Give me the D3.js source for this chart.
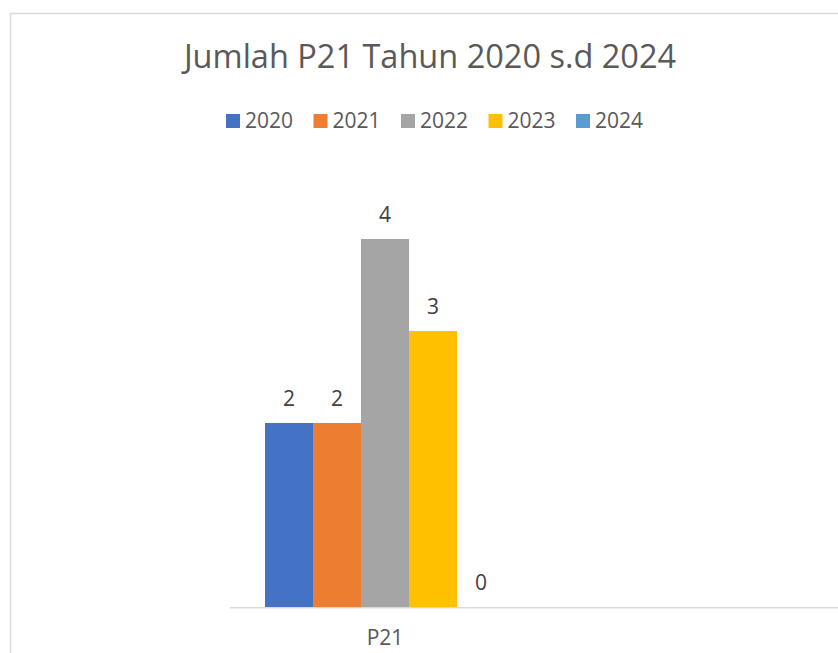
<!DOCTYPE html>
<html>
<head>
<meta charset="utf-8">
<script src="https://cdn.jsdelivr.net/npm/d3@7"></script>
<style>
  html, body { margin: 0; padding: 0; background: #fff; }
  svg { display: block; font-family: "Open Sans", sans-serif; }
</style>
</head>
<body>
<svg id="chart" width="838" height="653"></svg>
<script>
const categories = ["P21"];
const years = ["2020", "2021", "2022", "2023", "2024"];
const values = [2, 2, 4, 3, 0];
const colors = ["#4472C4", "#ED7D31", "#A5A5A5", "#FFC000", "#5B9BD5"];
const yMax = 5;

(() => {
  const width = 838;
  const height = 653;
  const plot = { left: 230, right: 540, top: 147, bottom: 607 };

  const svg = d3.select("#chart");

  // chart frame (cropped on the right and bottom)
  svg.append("rect")
    .attr("x", 10.5)
    .attr("y", 13.5)
    .attr("width", 900)
    .attr("height", 700)
    .attr("fill", "#fff")
    .attr("stroke", "#d9d9d9")
    .attr("stroke-width", 1.5);

  svg.append("text")
    .attr("x", 430)
    .attr("y", 68)
    .attr("text-anchor", "middle")
    .attr("fill", "#595959")
    .style("font-size", "32.5px")
    .text("Jumlah P21 Tahun 2020 s.d 2024");

  // legend
  const legend = svg.append("g")
    .selectAll("g")
    .data(years)
    .join("g")
    .attr("transform", (d, i) => `translate(${226 + i * 87.5}, 114)`);

  legend.append("rect")
    .attr("width", 14)
    .attr("height", 14)
    .attr("fill", (d, i) => colors[i]);

  legend.append("text")
    .attr("x", 19)
    .attr("y", 14)
    .attr("fill", "#595959")
    .style("font-size", "21px")
    .text(d => d);

  const x0 = d3.scaleBand()
    .domain(categories)
    .range([plot.left, plot.right])
    .paddingOuter(0.1458);

  const x1 = d3.scaleBand()
    .domain(years)
    .range([0, x0.bandwidth()]);

  const y = d3.scaleLinear()
    .domain([0, yMax])
    .range([plot.bottom, plot.top]);

  const groups = svg.append("g")
    .selectAll("g")
    .data(categories)
    .join("g")
    .attr("transform", d => `translate(${x0(d)}, 0)`);

  const rows = years.map((yr, i) => ({ year: yr, value: values[i], color: colors[i] }));

  groups.selectAll("rect")
    .data(rows)
    .join("rect")
    .attr("x", d => x1(d.year))
    .attr("y", d => y(d.value))
    .attr("width", x1.bandwidth())
    .attr("height", d => y(0) - y(d.value))
    .attr("fill", d => d.color);

  groups.selectAll("text")
    .data(rows)
    .join("text")
    .attr("x", d => x1(d.year) + x1.bandwidth() / 2)
    .attr("y", d => y(d.value) - 17)
    .attr("text-anchor", "middle")
    .attr("fill", "#404040")
    .style("font-size", "21px")
    .text(d => d.value);

  // category axis
  svg.append("line")
    .attr("x1", plot.left)
    .attr("x2", width)
    .attr("y1", y(0) + 0.75)
    .attr("y2", y(0) + 0.75)
    .attr("stroke", "#d9d9d9")
    .attr("stroke-width", 1.5);

  svg.append("g")
    .selectAll("text")
    .data(categories)
    .join("text")
    .attr("x", d => x0(d) + x0.bandwidth() / 2)
    .attr("y", 645)
    .attr("text-anchor", "middle")
    .attr("fill", "#595959")
    .style("font-size", "21px")
    .text(d => d);
})();
</script>
</body>
</html>
